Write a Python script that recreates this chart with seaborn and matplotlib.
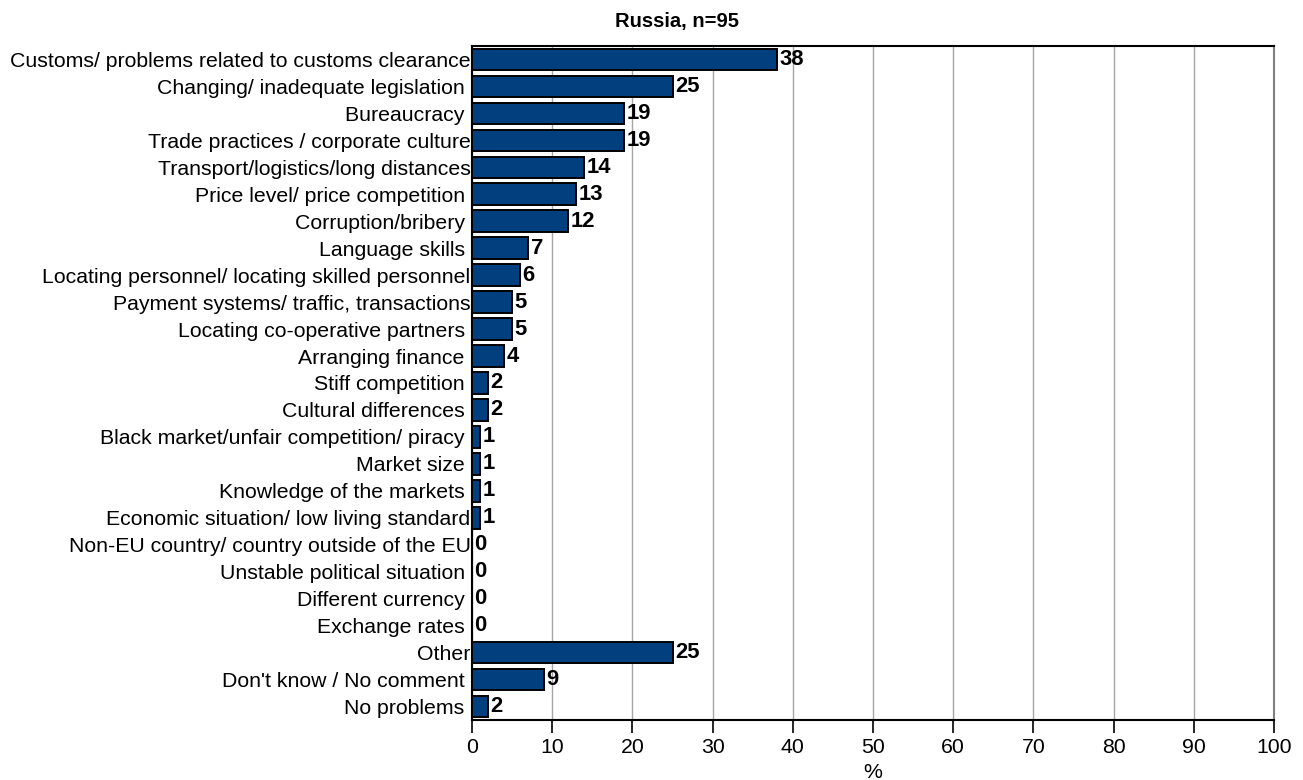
import matplotlib
matplotlib.use("Agg")
import matplotlib.pyplot as plt
import seaborn as sns
import pandas as pd

categories = [
    "Customs/ problems related to customs clearance",
    "Changing/ inadequate legislation ",
    "Bureaucracy ",
    "Trade practices / corporate culture",
    "Transport/logistics/long distances",
    "Price level/ price competition ",
    "Corruption/bribery ",
    "Language skills ",
    "Locating personnel/ locating skilled personnel",
    "Payment systems/ traffic, transactions",
    "Locating co-operative partners ",
    "Arranging finance ",
    "Stiff competition ",
    "Cultural differences ",
    "Black market/unfair competition/ piracy ",
    "Market size ",
    "Knowledge of the markets ",
    "Economic situation/ low living standard",
    "Non-EU country/ country outside of the EU",
    "Unstable political situation ",
    "Different currency ",
    "Exchange rates ",
    "Other",
    "Don't know / No comment ",
    "No problems ",
]
values = [38, 25, 19, 19, 14, 13, 12, 7, 6, 5, 5, 4, 2, 2, 1, 1, 1, 1, 0, 0, 0, 0, 25, 9, 2]
x_ticks = [0, 10, 20, 30, 40, 50, 60, 70, 80, 90, 100]
title = "Russia, n=95"

sns.set_theme(style="white")
plt.rcParams["font.family"] = ["Liberation Sans", "DejaVu Sans"]
plt.rcParams["text.color"] = "black"
plt.rcParams["xtick.color"] = "black"
plt.rcParams["ytick.color"] = "black"
plt.rcParams["axes.labelcolor"] = "black"

df = pd.DataFrame({"problem": categories, "share": values})

W, H = 1303, 780
fig = plt.figure(figsize=(W / 100, H / 100), dpi=100)
ax = fig.add_axes([472 / W, 1 - 720 / H, (1274 - 472) / W, (720 - 46) / H])

bar_color = "#023f7e"
sns.barplot(data=df, y="problem", x="share", orient="h", color=bar_color,
            saturation=1, width=0.8, edgecolor="black", linewidth=1.4,
            ax=ax, zorder=3)

fs = 15.3
ax.set_xlim(0, 100)
ax.set_xticks(x_ticks)
ax.set_xticklabels([str(t) for t in x_ticks], fontsize=fs)
ax.tick_params(axis="x", direction="out", length=9, width=1.2, color="black",
               pad=4, bottom=True)
ax.tick_params(axis="y", length=0, pad=1, labelsize=fs)
ax.xaxis.grid(True, color="#a6a6a6", linewidth=1, zorder=0)
ax.yaxis.grid(False)
ax.set_ylabel("")
ax.set_xlabel("%", fontsize=fs, labelpad=4)

for side in ["left", "bottom", "top"]:
    ax.spines[side].set_color("black")
    ax.spines[side].set_linewidth(1.5)
ax.spines["right"].set_color("#808080")
ax.spines["right"].set_linewidth(1.5)

for i, v in enumerate(values):
    ax.text(v + 0.3, i, f"{v}", va="center", ha="left", fontsize=fs + 0.5,
            fontweight="bold", color="black", zorder=4)

fig.text(677 / W, 1 - 22 / H, title, ha="center", va="center",
         fontsize=14.5, fontweight="bold")

fig.savefig("out.png", dpi=100)
